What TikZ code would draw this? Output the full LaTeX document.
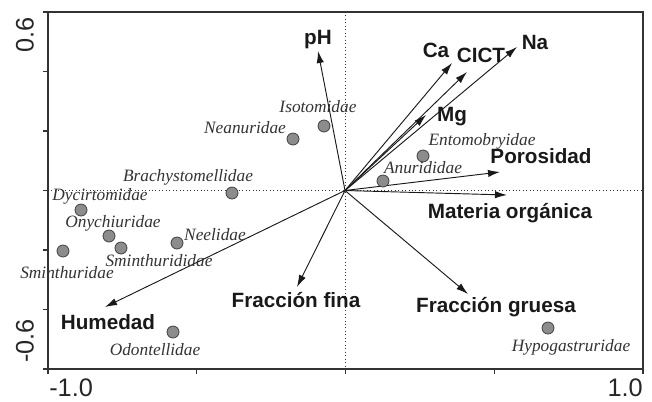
\documentclass[tikz,border=0pt]{standalone}
\usepackage{fontspec}
\usetikzlibrary{arrows.meta}
\newfontfamily\sansfam{Liberation Sans}
\newfontfamily\seriffam{Liberation Serif}
\newcommand{\envfont}{\sansfam\bfseries\fontsize{15.5}{18}\selectfont}
\newcommand{\spfont}{\seriffam\itshape\fontsize{13}{15}\selectfont}
\newcommand{\axfont}{\sansfam\fontsize{19}{22}\selectfont}
\tikzset{
  vec/.style={-{Latex[length=9pt,width=5.5pt]}, line width=0.7pt, black!90},
  envlab/.style={font=\envfont, text=black!90, inner sep=0pt, anchor=center},
  spdot/.style={circle, draw=black!75, fill=black!45, line width=0.6pt, minimum size=9pt, inner sep=0pt},
  splab/.style={font=\spfont, text=black!80, inner sep=0pt, anchor=center},
  axlab/.style={font=\axfont, text=black!85, inner sep=0pt},
  frameline/.style={line width=1.1pt, black!80},
  guide/.style={dotted, line width=0.6pt, black!80},
  tick/.style={line width=0.8pt, black!80}
}
\begin{document}
\begin{tikzpicture}[x=0.75pt, y=-0.75pt]
\useasboundingbox (0,0) rectangle (652,401);
% frame corners
\coordinate (TL) at (48,12);
\coordinate (BR) at (643,369);
\coordinate (O) at (345,190.5);
% dotted axes through origin
\draw[guide] (48,190.5) -- (643,190.5);
\draw[guide] (345,12) -- (345,369);
% frame
\draw[frameline] (TL) rectangle (BR);
% ticks
\foreach \yy in {12,71.5,131,190.5,250,309.5,369} \draw[tick] (43,\yy) -- (48,\yy);
\foreach \xx in {48,196.75,345.5,494.25,643} \draw[tick] (\xx,369) -- (\xx,374);
% axis labels
\node[axlab, rotate=90, anchor=east] (y06) at (25,17) {0.6};
\node[axlab, rotate=90, anchor=west] (ym06) at (25,363) {-0.6};
\node[axlab, anchor=west] (xm1) at (49,388) {-1.0};
\node[axlab, anchor=east] (x1) at (643,388) {1.0};
% arrow tips
\coordinate (pH) at (318,51);
\coordinate (Ca) at (452,63);
\coordinate (CICT) at (467,72);
\coordinate (Na) at (517,47);
\coordinate (Mg) at (426,115);
\coordinate (Por) at (500,172);
\coordinate (MO) at (507,195);
\coordinate (FG) at (468,294);
\coordinate (FF) at (297,287);
\coordinate (Hum) at (105,307);
\foreach \t in {pH,Ca,CICT,Na,Mg,Por,MO,FG,FF,Hum} \draw[vec] (O) -- (\t);
% environmental labels
\node[envlab] (lpH) at (318,40) {pH};
\node[envlab] (lCa) at (436,50) {Ca};
\node[envlab] (lCICT) at (481,55) {CICT};
\node[envlab] (lNa) at (535,42) {Na};
\node[envlab] (lMg) at (452,116.5) {Mg};
\node[envlab] (lPor) at (541,156.5) {Porosidad};
\node[envlab] (lMO) at (510,213.5) {Materia orgánica};
\node[envlab] (lFG) at (496,307.5) {Fracción gruesa};
\node[envlab] (lFF) at (296,300.5) {Fracción fina};
\node[envlab] (lHum) at (108,322.5) {Humedad};
% species points
\node[spdot] (iso) at (324,126) {};
\node[spdot] (nea) at (293,139) {};
\node[spdot] (bra) at (232,193) {};
\node[spdot] (dyc) at (81,210) {};
\node[spdot] (ony) at (109,236) {};
\node[spdot] (smd) at (121,248) {};
\node[spdot] (smi) at (63,251) {};
\node[spdot] (nee) at (177,243) {};
\node[spdot] (odo) at (173,332) {};
\node[spdot] (ent) at (423,156) {};
\node[spdot] (anu) at (383,181) {};
\node[spdot] (hyp) at (548,328) {};
% species labels
\node[splab] (liso) at (318,107) {Isotomidae};
\node[splab] (lnea) at (245,128) {Neanuridae};
\node[splab] (lbra) at (188,177) {Brachystomellidae};
\node[splab] (ldyc) at (100,196) {Dycirtomidae};
\node[splab] (lony) at (113,223) {Onychiuridae};
\node[splab] (lsmd) at (159,261) {Sminthurididae};
\node[splab] (lsmi) at (67,273) {Sminthuridae};
\node[splab] (lnee) at (215,235) {Neelidae};
\node[splab] (lodo) at (155,350) {Odontellidae};
\node[splab] (lent) at (482,141) {Entomobryidae};
\node[splab] (lanu) at (423,168) {Anurididae};
\node[splab] (lhyp) at (571,347) {Hypogastruridae};
\end{tikzpicture}
\end{document}
